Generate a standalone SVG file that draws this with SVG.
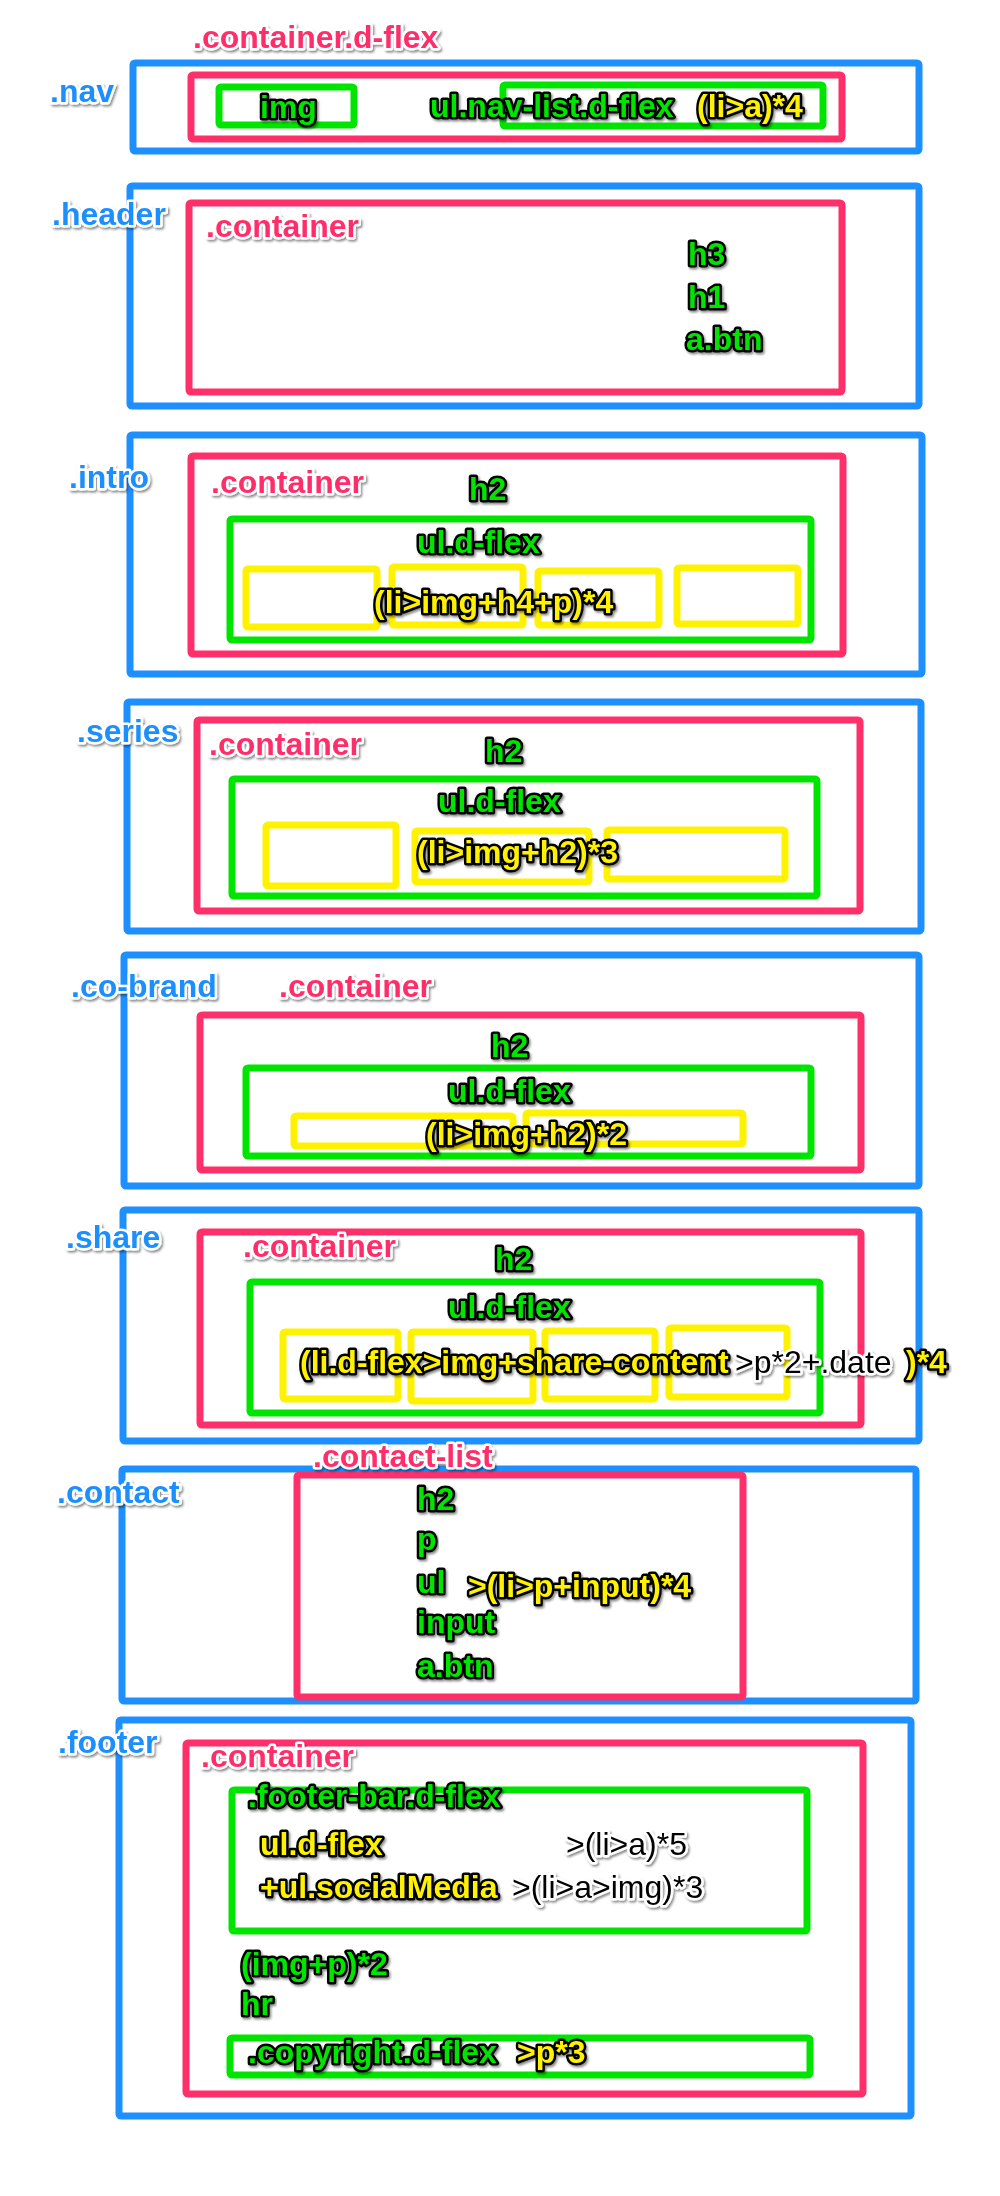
<svg xmlns="http://www.w3.org/2000/svg" width="1000" height="2196" viewBox="0 0 1000 2196">
<defs>
<filter id="sh" x="-10%" y="-30%" width="120%" height="160%">
<feDropShadow dx="1.5" dy="2" stdDeviation="1.2" flood-color="#000" flood-opacity="0.45"/>
</filter>
<style>
rect{fill:none;stroke-width:7}
.b{stroke:#1E8FFF;rx:2}
.r{stroke:#FF2F6A;rx:2}
.g{stroke:#00E500;rx:2}
.y{stroke:#FFF200;rx:2}
text{font-family:"Liberation Sans",Arial,Helvetica,sans-serif;font-weight:bold;font-size:32px;paint-order:stroke;stroke-linejoin:round;filter:url(#sh)}
.tb{fill:#1E8FFF;stroke:#fff;stroke-width:5}
.tr{fill:#FF2F6A;stroke:#fff;stroke-width:5}
.tg{fill:#00E500;stroke:#000;stroke-width:5}
.ty{fill:#FFF200;stroke:#000;stroke-width:5}
.tk{fill:#000;stroke:#fff;stroke-width:5;font-weight:normal}
</style>
</defs>
<rect x="0" y="0" width="1000" height="2196" style="fill:#fff;stroke:none"/>

<g id="nav">
<rect class="b" x="133" y="63" width="786" height="88"/>
<rect class="r" x="191" y="75" width="651" height="64"/>
<rect class="g" x="219" y="87" width="135" height="38"/>
<rect class="g" x="503" y="85" width="320" height="41"/>
<text class="tb" x="50" y="102">.nav</text>
<text class="tr" x="193" y="48">.container.d-flex</text>
<text class="tg" x="260" y="118">img</text>
<text class="tg" x="430" y="117">ul.nav-list.d-flex</text>
<text class="ty" x="697" y="117">(li&gt;a)*4</text>
</g>

<g id="header">
<rect class="b" x="130" y="186" width="789" height="220"/>
<rect class="r" x="189" y="203" width="653" height="189"/>
<text class="tb" x="52" y="225">.header</text>
<text class="tr" x="206" y="237">.container</text>
<text class="tg" x="688" y="265">h3</text>
<text class="tg" x="688" y="308">h1</text>
<text class="tg" x="686" y="350">a.btn</text>
</g>

<g id="intro">
<rect class="b" x="130" y="435" width="792" height="239"/>
<rect class="r" x="191" y="456" width="652" height="198"/>
<rect class="g" x="230" y="519" width="581" height="121"/>
<rect class="y" x="246" y="569" width="131" height="58"/>
<rect class="y" x="392" y="567" width="131" height="58"/>
<rect class="y" x="538" y="571" width="121" height="54"/>
<rect class="y" x="677" y="568" width="121" height="56"/>
<text class="tb" x="69" y="488">.intro</text>
<text class="tr" x="211" y="493">.container</text>
<text class="tg" x="469" y="500">h2</text>
<text class="tg" x="417" y="553">ul.d-flex</text>
<text class="ty" x="374" y="613">(li&gt;img+h4+p)*4</text>
</g>

<g id="series">
<rect class="b" x="127" y="702" width="794" height="229"/>
<rect class="r" x="197" y="720" width="663" height="191"/>
<rect class="g" x="232" y="779" width="585" height="117"/>
<rect class="y" x="266" y="825" width="130" height="61"/>
<rect class="y" x="415" y="831" width="174" height="51"/>
<rect class="y" x="607" y="830" width="178" height="49"/>
<text class="tb" x="77" y="742">.series</text>
<text class="tr" x="209" y="755">.container</text>
<text class="tg" x="485" y="762">h2</text>
<text class="tg" x="438" y="812">ul.d-flex</text>
<text class="ty" x="417" y="863">(li&gt;img+h2)*3</text>
</g>

<g id="co-brand">
<rect class="b" x="124" y="955" width="795" height="231"/>
<rect class="r" x="200" y="1015" width="661" height="155"/>
<rect class="g" x="246" y="1068" width="565" height="88"/>
<rect class="y" x="294" y="1116" width="219" height="30"/>
<rect class="y" x="526" y="1113" width="217" height="31"/>
<text class="tb" x="71" y="997">.co-brand</text>
<text class="tr" x="279" y="997">.container</text>
<text class="tg" x="491" y="1057">h2</text>
<text class="tg" x="448" y="1102">ul.d-flex</text>
<text class="ty" x="426" y="1145">(li&gt;img+h2)*2</text>
</g>

<g id="share">
<rect class="b" x="123" y="1210" width="796" height="231"/>
<rect class="r" x="200" y="1232" width="661" height="193"/>
<rect class="g" x="250" y="1282" width="570" height="131"/>
<rect class="y" x="283" y="1332" width="115" height="67"/>
<rect class="y" x="411" y="1332" width="122" height="69"/>
<rect class="y" x="545" y="1331" width="110" height="68"/>
<rect class="y" x="669" y="1328" width="118" height="69"/>
<text class="tb" x="66" y="1248">.share</text>
<text class="tr" x="243" y="1257">.container</text>
<text class="tg" x="495" y="1270">h2</text>
<text class="tg" x="448" y="1318">ul.d-flex</text>
<text class="ty" x="300" y="1373">(li.d-flex&gt;img+share-content</text>
<text class="tk" x="735" y="1373">&gt;p*2+.date</text>
<text class="ty" x="906" y="1373">)*4</text>
</g>

<g id="contact">
<rect class="b" x="122" y="1469" width="794" height="232"/>
<rect class="r" x="297" y="1475" width="446" height="222"/>
<text class="tb" x="57" y="1503">.contact</text>
<text class="tr" x="313" y="1467">.contact-list</text>
<text class="tg" x="417" y="1510">h2</text>
<text class="tg" x="417" y="1550">p</text>
<text class="tg" x="417" y="1593">ul</text>
<text class="ty" x="468" y="1597">&gt;(li&gt;p+input)*4</text>
<text class="tg" x="417" y="1633">input</text>
<text class="tg" x="417" y="1677">a.btn</text>
</g>

<g id="footer">
<rect class="b" x="119" y="1720" width="792" height="396"/>
<rect class="r" x="186" y="1743" width="677" height="351"/>
<rect class="g" x="232" y="1790" width="575" height="141"/>
<rect class="g" x="230" y="2038" width="580" height="37"/>
<text class="tb" x="58" y="1753">.footer</text>
<text class="tr" x="201" y="1767">.container</text>
<text class="tg" x="248" y="1807">.footer-bar.d-flex</text>
<text class="ty" x="260" y="1855">ul.d-flex</text>
<text class="tk" x="566" y="1855">&gt;(li&gt;a)*5</text>
<text class="ty" x="260" y="1898">+ul.socialMedia</text>
<text class="tk" x="512" y="1898">&gt;(li&gt;a&gt;img)*3</text>
<text class="tg" x="241" y="1975">(img+p)*2</text>
<text class="tg" x="241" y="2015">hr</text>
<text class="tg" x="248" y="2063">.copyright.d-flex</text>
<text class="ty" x="517" y="2063">&gt;p*3</text>
</g>

<g id="connectors"/>
</svg>
